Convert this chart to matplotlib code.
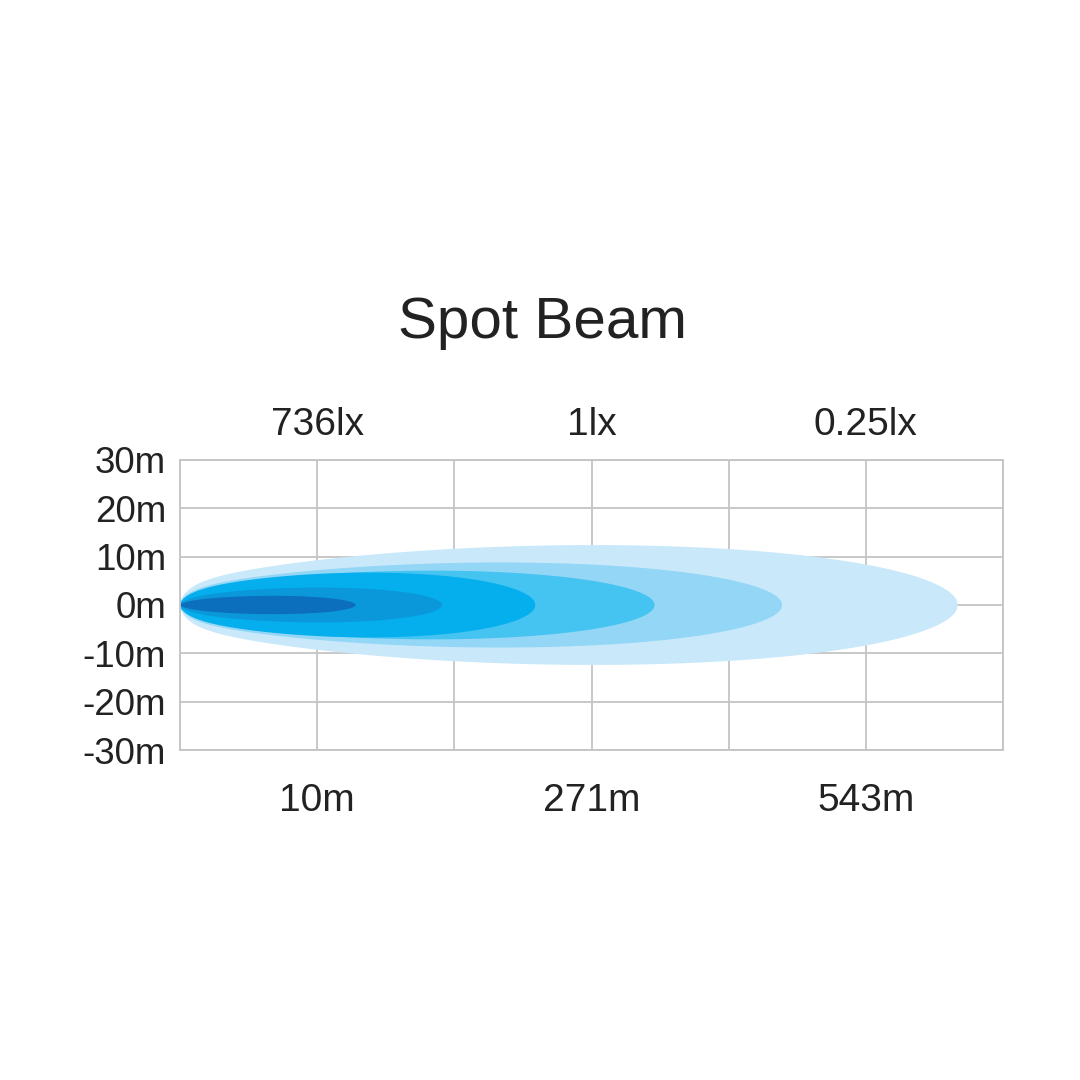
import numpy as np
import matplotlib
matplotlib.use("Agg")
import matplotlib.pyplot as plt

# Data
lux_labels = ["736lx", "1lx", "0.25lx"]
dist_labels = ["10m", "271m", "543m"]
label_positions = [1, 3, 5]
y_ticks = [30, 20, 10, 0, -10, -20, -30]
y_tick_labels = ["30m", "20m", "10m", "0m", "-10m", "-20m", "-30m"]
# beam layers (outermost first): length in grid columns, max half-width in m
beam_lengths = [5.67, 4.39, 3.46, 2.59, 1.91, 1.28]
beam_halfwidths = [12.4, 8.8, 7.1, 6.7, 3.6, 1.9]
beam_colors = ["#c9e9fb", "#93d6f6", "#45c3f1", "#05aeec", "#0b98da", "#0b6fbd"]

plt.rcParams['font.family'] = ['Liberation Sans', 'DejaVu Sans']

fig = plt.figure(figsize=(10.8, 10.8), dpi=100)
ax = fig.add_axes([180/1080, 1-750/1080, (1003-180)/1080, (750-460)/1080])

a, b, x0 = 0.7, 0.5, 0.12
for L, H, c in zip(beam_lengths, beam_halfwidths, beam_colors):
    t = np.linspace(0, 1, 800)
    x = t * L
    prof = 0.8 * t**a * (1-t)**b + 0.12 * np.sqrt(1 - np.exp(-x/x0)) * (1-t)**b
    prof = prof / prof.max()
    h = H * prof
    xs = np.concatenate([x, x[::-1]])
    ys = np.concatenate([h, -h[::-1]])
    ax.fill(xs, ys, color=c, lw=0, zorder=2)

ax.set_xlim(0, 6)
ax.set_ylim(-30, 30)
ax.set_xticks(range(7))
ax.set_yticks(y_ticks)
ax.set_yticklabels(y_tick_labels, fontsize=26.5, color="#222222")
ax.tick_params(axis='y', length=0, pad=10)
ax.tick_params(axis='x', length=0, labelbottom=False)
ax.grid(True, color="#c4c4c4", lw=1.3, zorder=1)
ax.set_axisbelow(True)
for s in ax.spines.values():
    s.set_color("#c4c4c4")
    s.set_linewidth(1.3)

for xp, lab in zip(label_positions, lux_labels):
    ax.text(xp, 30 + 35/48.3*10, lab, ha='center', va='center',
            fontsize=28, color="#222222")
for xp, lab in zip(label_positions, dist_labels):
    ax.text(xp, -30 - 51/48.3*10, lab, ha='center', va='center',
            fontsize=28, color="#222222")

fig.text(542/1080, 1-323/1080, "Spot Beam", ha='center', va='center',
         fontsize=42, color="#222222")

fig.savefig("out.png", dpi=100, facecolor="white")
